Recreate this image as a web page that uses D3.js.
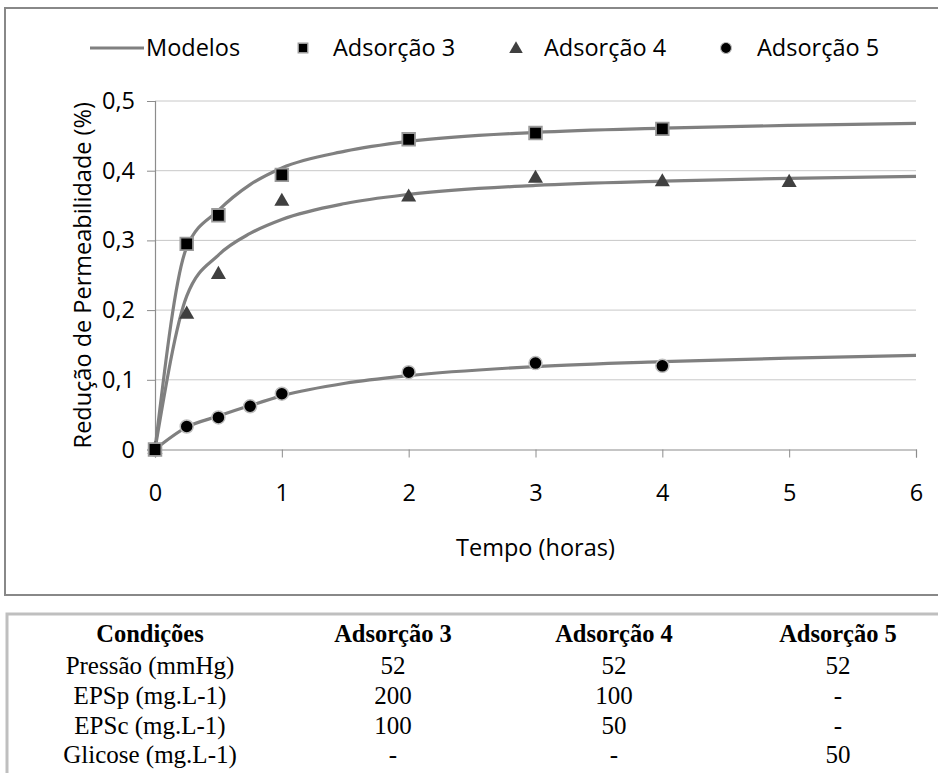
<!DOCTYPE html>
<html>
<head>
<meta charset="utf-8">
<script src="https://cdn.jsdelivr.net/npm/d3@7"></script>
<style>
  html, body { margin: 0; padding: 0; background: #fff; }
  svg { display: block; }
</style>
</head>
<body>
<svg id="chart" width="938" height="773"></svg>
<script>
// Measured points (tempo em horas, redução em %)
const tempo3 = [0, 0.25, 0.5, 1, 2, 3, 4];
const ads3 = [0, 0.295, 0.336, 0.394, 0.445, 0.454, 0.460];
const tempo4 = [0, 0.25, 0.5, 1, 2, 3, 4, 5];
const ads4 = [0, 0.194, 0.251, 0.356, 0.362, 0.389, 0.384, 0.383];
const tempo5 = [0, 0.25, 0.5, 0.75, 1, 2, 3, 4];
const ads5 = [0, 0.033, 0.046, 0.062, 0.080, 0.111, 0.124, 0.120];

// Model curves evaluated at these times
const tempoModelo = [0, 0.25, 0.5, 0.75, 1, 1.5, 2, 3, 4, 5, 6];
const modelo3 = [0, 0.290, 0.343, 0.380, 0.404, 0.428, 0.442, 0.455, 0.461, 0.465, 0.468];
const modelo4 = [0, 0.220, 0.279, 0.310, 0.330, 0.353, 0.366, 0.379, 0.385, 0.389, 0.392];
const modelo5 = [0, 0.032, 0.048, 0.063, 0.077, 0.095, 0.106, 0.119, 0.126, 0.131, 0.135];

const xTicks = [0, 1, 2, 3, 4, 5, 6];
const yTicks = [0, 0.1, 0.2, 0.3, 0.4, 0.5];
const legendLabels = ["Modelos", "Adsorção 3", "Adsorção 4", "Adsorção 5"];

// Conditions table
const tableHeader = ["Condições", "Adsorção 3", "Adsorção 4", "Adsorção 5"];
const tableRows = [
  ["Pressão (mmHg)", "52", "52", "52"],
  ["EPSp (mg.L-1)", "200", "100", "-"],
  ["EPSc (mg.L-1)", "100", "50", "-"],
  ["Glicose (mg.L-1)", "-", "-", "50"]
];

const svg = d3.select("#chart");
const sansFont = "'Open Sans', sans-serif";
const serifFont = "'Liberation Serif', 'Times New Roman', serif";
const fs = 23.5;

const x = d3.scaleLinear().domain([0, 6]).range([155, 916]);
const y = d3.scaleLinear().domain([0, 0.5]).range([449.5, 101]);

// Chart frame
svg.append("rect")
  .attr("x", 5).attr("y", 8).attr("width", 945).attr("height", 587)
  .attr("fill", "none").attr("stroke", "#888888").attr("stroke-width", 2);

// Horizontal gridlines
svg.append("g").selectAll("line")
  .data(yTicks.filter(d => d > 0))
  .join("line")
  .attr("x1", x(0)).attr("x2", x(6))
  .attr("y1", d => y(d)).attr("y2", d => y(d))
  .attr("stroke", "#c8c8c8").attr("stroke-width", 1);

// Y axis
const yAxis = svg.append("g")
  .attr("transform", `translate(${x(0)},0)`)
  .call(d3.axisLeft(y).tickValues(yTicks).tickSize(8).tickPadding(12)
    .tickFormat(d => d3.format(".1f")(d).replace(".", ",").replace(/^0,0$/, "0")));
yAxis.select(".domain").attr("stroke", "#8c8c8c").attr("stroke-width", 1.2);
yAxis.selectAll(".tick line").attr("stroke", "#8c8c8c");
yAxis.selectAll(".tick text")
  .attr("font-family", sansFont).attr("font-size", fs).attr("fill", "#000");

// X axis
const xAxis = svg.append("g")
  .attr("transform", `translate(0,${y(0)})`)
  .call(d3.axisBottom(x).tickValues(xTicks).tickSize(8).tickPadding(27)
    .tickFormat(d3.format("d")));
xAxis.select(".domain").attr("stroke", "#8c8c8c").attr("stroke-width", 1.2);
xAxis.selectAll(".tick line").attr("stroke", "#8c8c8c");
xAxis.selectAll(".tick text")
  .attr("font-family", sansFont).attr("font-size", fs).attr("fill", "#000");

// Axis titles
svg.append("text")
  .attr("x", x(3)).attr("y", 548)
  .attr("dy", "0.35em")
  .attr("text-anchor", "middle")
  .attr("font-family", sansFont).attr("font-size", fs)
  .text("Tempo (horas)");

svg.append("text")
  .attr("transform", `translate(83,${(y(0) + y(0.5)) / 2}) rotate(-90)`)
  .attr("dy", "0.35em")
  .attr("text-anchor", "middle")
  .attr("font-family", sansFont).attr("font-size", fs)
  .text("Redução de Permeabilidade (%)");

// Model curves
const line = d3.line()
  .x(d => x(d[0])).y(d => y(d[1]))
  .curve(d3.curveMonotoneX);
[modelo3, modelo4, modelo5].forEach(m => {
  svg.append("path")
    .datum(tempoModelo.map((t, i) => [t, m[i]]))
    .attr("d", line)
    .attr("fill", "none")
    .attr("stroke", "#808080")
    .attr("stroke-width", 3.2);
});

// Marker shapes
const sq = d3.symbol().type(d3.symbolSquare).size(160);
const tri = d3.symbol().type(d3.symbolTriangle).size(98);

function circles(g, ts, vs) {
  g.selectAll("circle")
    .data(ts.map((t, i) => [t, vs[i]]))
    .join("circle")
    .attr("cx", d => x(d[0])).attr("cy", d => y(d[1]))
    .attr("r", 6.5)
    .attr("fill", "#000").attr("stroke", "#bdbdbd").attr("stroke-width", 1.5);
}
function triangles(g, ts, vs) {
  g.selectAll("path")
    .data(ts.map((t, i) => [t, vs[i]]))
    .join("path")
    .attr("d", tri)
    .attr("transform", d => `translate(${x(d[0])},${y(d[1])})`)
    .attr("fill", "#404040");
}
function squares(g, ts, vs) {
  g.selectAll("path")
    .data(ts.map((t, i) => [t, vs[i]]))
    .join("path")
    .attr("d", sq)
    .attr("transform", d => `translate(${x(d[0])},${y(d[1])})`)
    .attr("fill", "#000").attr("stroke", "#9a9a9a").attr("stroke-width", 1.8);
}

circles(svg.append("g"), tempo5, ads5);
triangles(svg.append("g"), tempo4, ads4);
squares(svg.append("g"), tempo3, ads3);

// Legend
const legY = 48;
const leg = svg.append("g");
leg.append("line")
  .attr("x1", 90).attr("x2", 144).attr("y1", legY).attr("y2", legY)
  .attr("stroke", "#808080").attr("stroke-width", 3.2);
leg.append("path").attr("d", d3.symbol().type(d3.symbolSquare).size(90))
  .attr("transform", `translate(303,${legY})`)
  .attr("fill", "#000").attr("stroke", "#9a9a9a").attr("stroke-width", 1.4);
leg.append("path").attr("d", d3.symbol().type(d3.symbolTriangle).size(80))
  .attr("transform", `translate(516,${legY + 1})`)
  .attr("fill", "#404040");
leg.append("circle").attr("cx", 726).attr("cy", legY).attr("r", 5.5)
  .attr("fill", "#000").attr("stroke", "#bdbdbd").attr("stroke-width", 1.2);
const legTextX = [146, 333, 544, 757];
leg.selectAll("text.lab")
  .data(legendLabels)
  .join("text")
  .attr("class", "lab")
  .attr("x", (d, i) => legTextX[i]).attr("y", legY)
  .attr("dy", "0.35em")
  .attr("font-family", sansFont).attr("font-size", fs)
  .text(d => d);

// Conditions table
svg.append("path")
  .attr("d", "M7,773 V614 H938")
  .attr("fill", "none").attr("stroke", "#bfbfbf").attr("stroke-width", 3);

const colX = [150, 393, 614, 838];
const rowY = [633, 665, 695, 725, 754];
svg.append("g").selectAll("text")
  .data(tableHeader)
  .join("text")
  .attr("x", (d, i) => colX[i]).attr("y", rowY[0])
  .attr("dy", "0.35em")
  .attr("text-anchor", "middle")
  .attr("font-family", serifFont).attr("font-weight", "bold").attr("font-size", 24.5)
  .text(d => d);

tableRows.forEach((row, r) => {
  svg.append("g").selectAll("text")
    .data(row)
    .join("text")
    .attr("x", (d, i) => colX[i]).attr("y", rowY[r + 1])
    .attr("dy", "0.35em")
    .attr("text-anchor", "middle")
    .attr("font-family", serifFont).attr("font-size", 25)
    .text(d => d);
});
</script>
</body>
</html>
